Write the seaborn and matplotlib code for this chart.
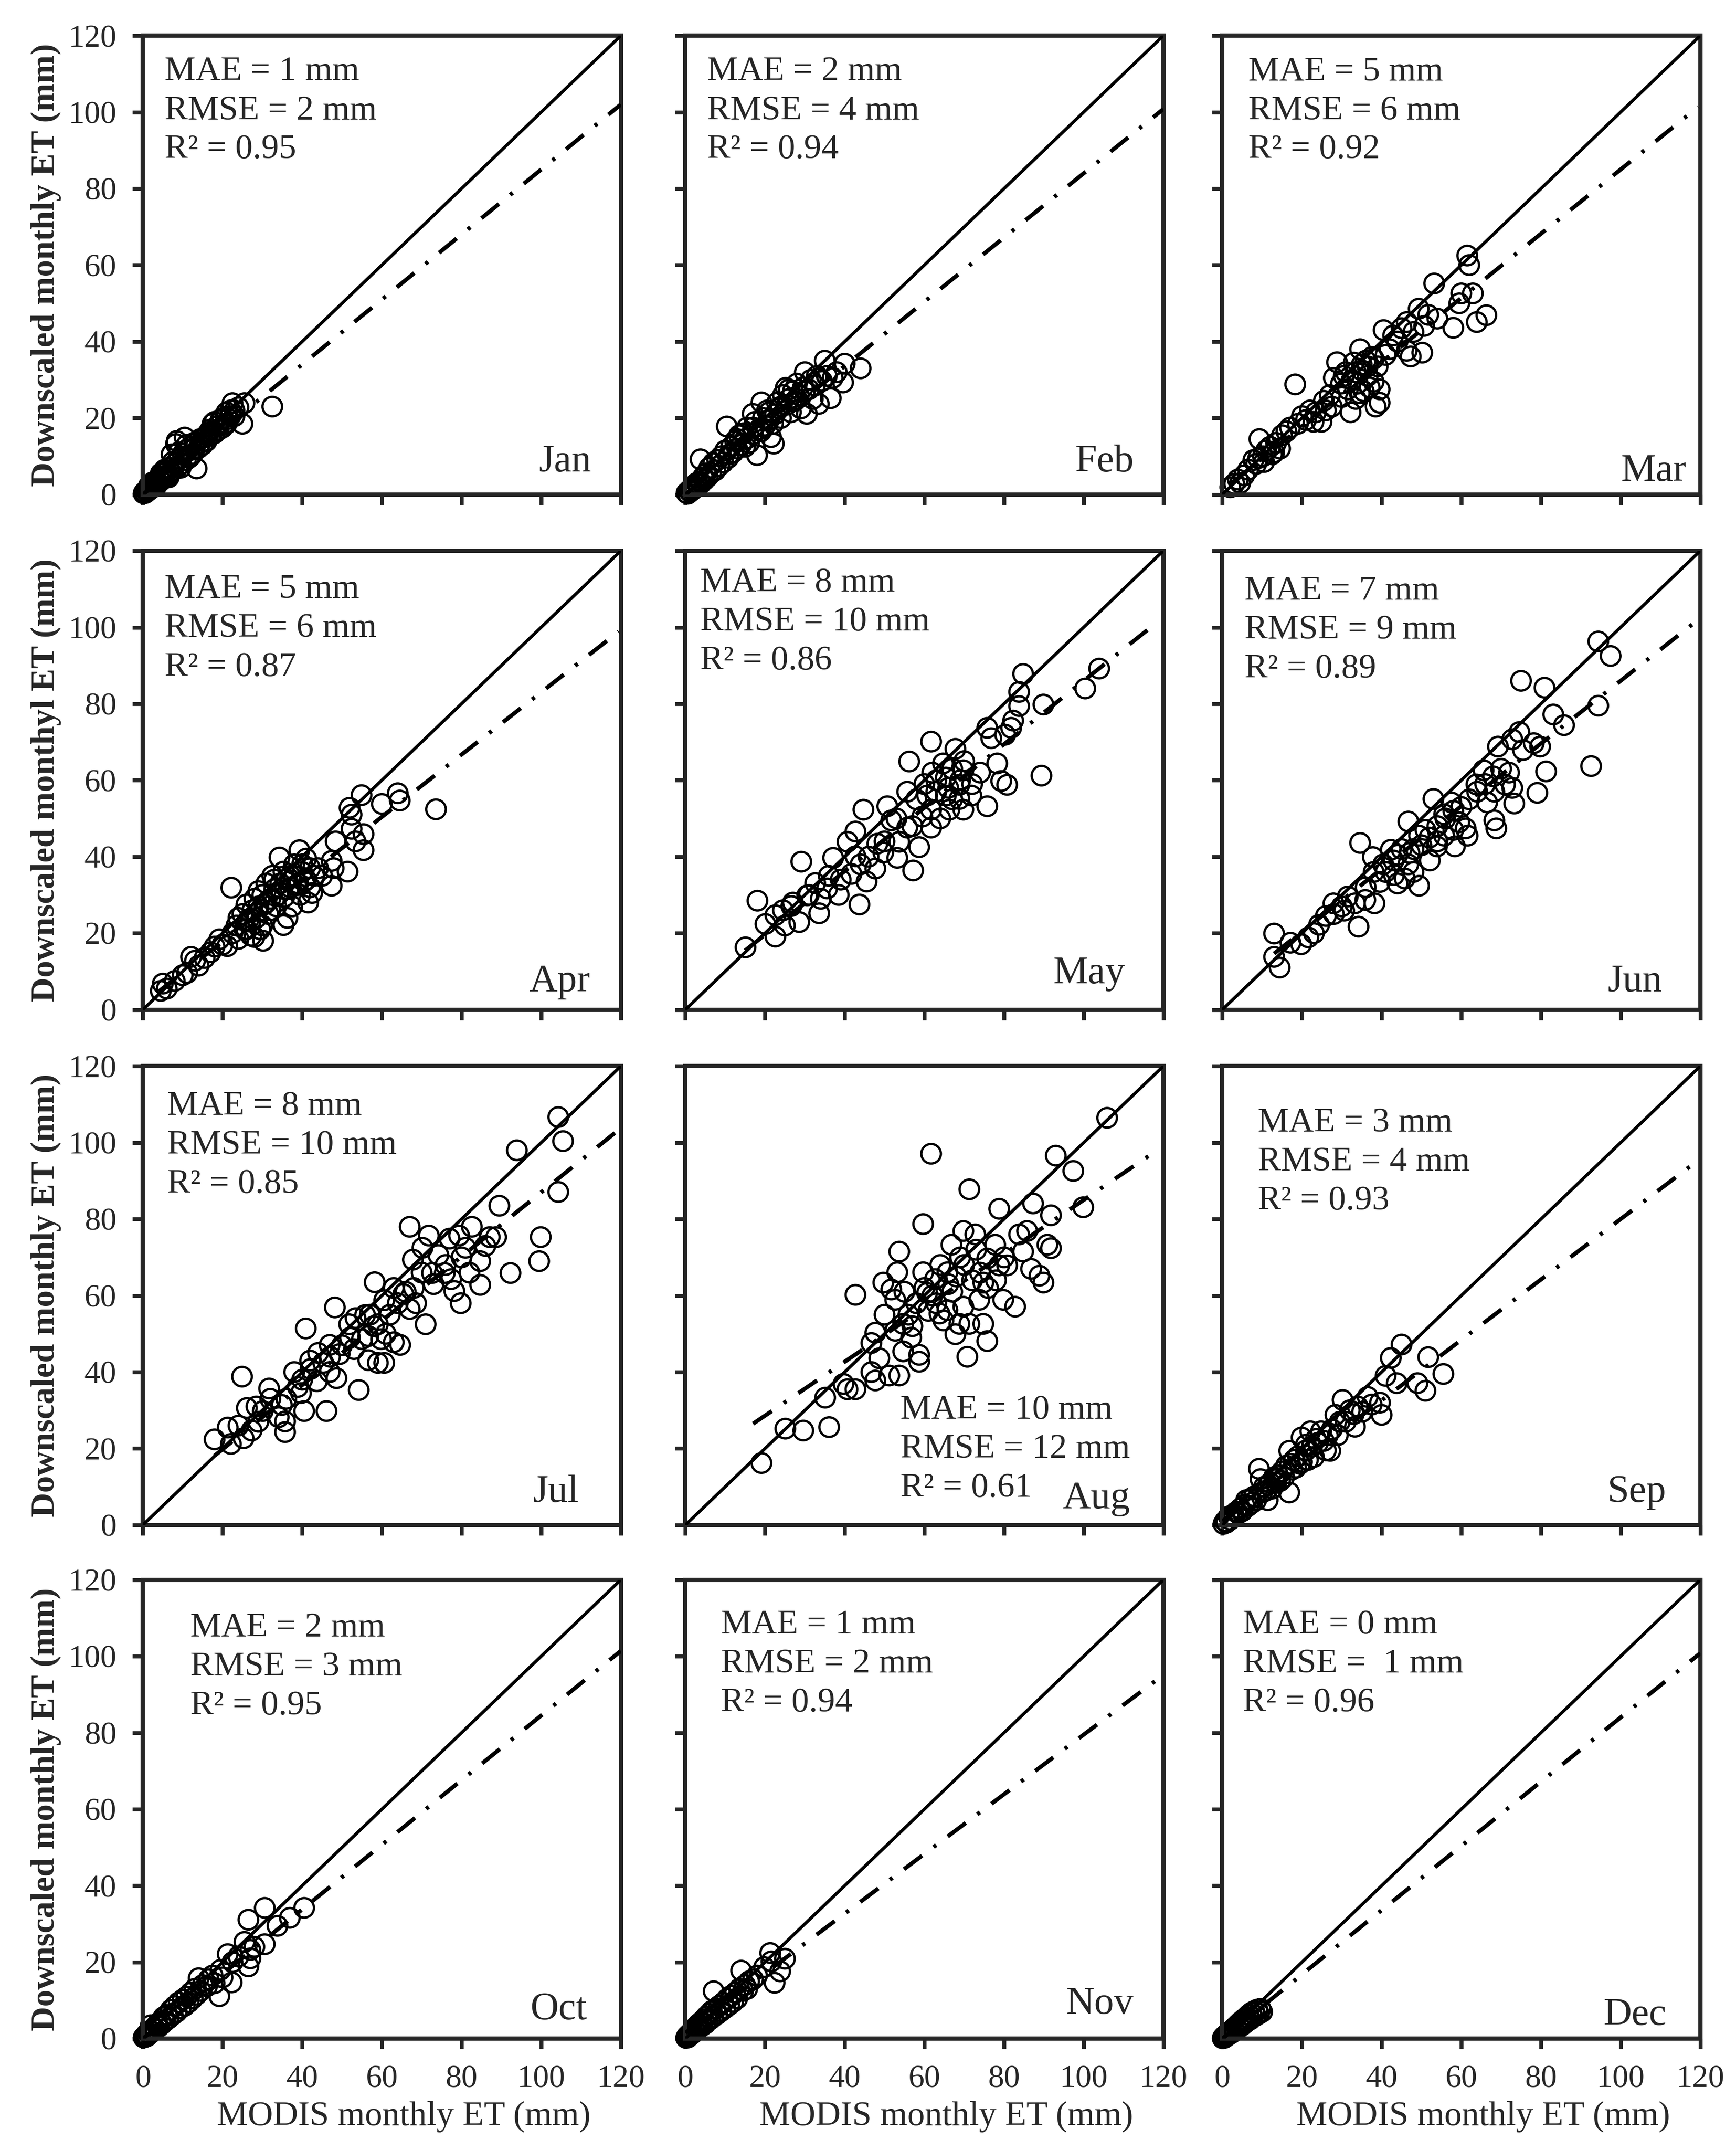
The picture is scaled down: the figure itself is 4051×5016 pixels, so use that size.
"""Downscaled vs MODIS monthly ET, 12 monthly scatter panels."""

import matplotlib
matplotlib.use("Agg")
import matplotlib.pyplot as plt
import numpy as np
import seaborn as sns

MONTHS = ["Jan", "Feb", "Mar", "Apr", "May", "Jun",
          "Jul", "Aug", "Sep", "Oct", "Nov", "Dec"]
MAE = ["1", "2", "5", "5", "8", "7", "8", "10", "3", "2", "1", "0"]
RMSE = ["2", "4", "6", "6", "10", "9", "10", "12", "4", "3", "2", " 1"]
R2 = ["0.95", "0.94", "0.92", "0.87", "0.86", "0.89",
      "0.85", "0.61", "0.93", "0.95", "0.94", "0.96"]

# fitted regression lines (slope, intercept, x start, x end)
REG_SLOPE = [0.85, 0.84, 0.84, 0.815, 0.83, 0.82, 0.84, 0.705, 0.79, 0.845, 0.78, 0.84]
REG_INTERCEPT = [0.0, 0.0, 1.0, 1.5, 3.0, 4.0, 3.0, 14.5, 1.0, 0.0, 1.5, 0.0]
REG_X0 = [0, 0, 2, 4, 15, 13, 18, 17, 0, 0, 0, 0]
REG_X1 = [120, 120, 119.5, 119.5, 118.5, 118.5, 119, 117, 120, 120, 120, 120]

YLABELS = ["Downscaled monthly ET (mm)", "Downscaled monthyl ET (mm)",
           "Downscaled monthly ET (mm)", "Downscaled monthly ET (mm)"]
TICKS = [0, 20, 40, 60, 80, 100, 120]

# (MODIS, downscaled) pairs
JAN = [(0.2, 0.3), (0.4, 0.6), (0.6, 0.4), (0.9, 1.0), (1.1, 0.8), (1.3, 1.5), (1.6, 1.2),
       (1.8, 2.0), (2.1, 1.6), (2.4, 2.5), (2.7, 2.0), (3.0, 3.0), (3.2, 2.4), (3.5, 3.6),
       (3.8, 2.9), (4.1, 4.3), (4.4, 3.5), (4.7, 4.8), (5.0, 4.0), (5.3, 5.6), (5.6, 4.6),
       (6.0, 6.2), (6.3, 5.0), (6.6, 7.0), (7.0, 5.8), (7.2, 10.5), (7.6, 6.3), (8.0, 8.0),
       (8.3, 13.2), (8.5, 14.0), (8.8, 7.2), (9.2, 9.5), (9.6, 8.0), (10.0, 10.6), (10.5, 14.9),
       (10.8, 9.0), (11.2, 11.8), (11.6, 9.6), (12.0, 12.5), (12.5, 10.6), (13.0, 13.6),
       (13.5, 6.8), (14.0, 12.2), (14.4, 14.5), (15.0, 13.0), (15.5, 15.0), (16.0, 14.0),
       (16.5, 16.2), (17.0, 15.5), (17.5, 18.5), (18.0, 16.0), (18.6, 17.8), (19.0, 16.9),
       (19.5, 19.5), (20.0, 17.5), (20.5, 18.5), (21.0, 21.5), (21.5, 19.8), (22.0, 22.0),
       (22.5, 23.9), (23.0, 20.5), (24.0, 22.8), (25.0, 18.5), (25.5, 23.9), (32.5, 23.0),
       (1.5, 2.2), (2.5, 3.2), (3.5, 2.5), (4.5, 5.5), (5.5, 6.5), (6.5, 4.5), (7.5, 8.5),
       (9.0, 11.0), (9.5, 7.0), (11.0, 13.0), (12.0, 10.0), (13.0, 12.0), (14.5, 13.5),
       (16.0, 15.5), (17.0, 17.0), (18.0, 19.0), (19.0, 18.0), (20.0, 20.0), (21.0, 18.5),
       (22.0, 20.5), (23.0, 22.0)]
FEB = [(0.3, 0.4), (0.6, 0.2), (0.9, 1.0), (1.2, 0.7), (1.5, 1.6), (1.8, 1.2), (2.2, 2.4),
       (2.5, 1.8), (2.8, 3.0), (3.2, 2.6), (3.5, 3.4), (3.8, 9.2), (4.0, 3.0), (4.4, 4.5),
       (4.8, 3.8), (5.2, 5.5), (5.6, 4.6), (6.0, 7.0), (6.5, 5.6), (7.0, 8.2), (7.5, 6.3),
       (8.0, 9.0), (8.5, 7.5), (9.0, 10.0), (9.5, 8.4), (10.0, 11.5), (10.4, 17.8), (10.8, 9.6),
       (11.5, 12.5), (12.0, 11.0), (12.5, 14.0), (13.0, 12.0), (13.5, 15.5), (14.0, 13.0),
       (14.5, 16.0), (15.0, 14.5), (15.5, 17.5), (16.0, 13.5), (16.9, 21.1), (17.0, 15.8),
       (17.5, 19.0), (18.0, 10.3), (18.5, 17.0), (19.1, 24.1), (19.5, 20.0), (20.0, 18.0),
       (20.5, 22.0), (21.0, 19.5), (21.5, 15.0), (22.2, 13.3), (22.5, 21.0), (23.0, 24.0),
       (23.5, 22.5), (24.0, 20.0), (24.5, 26.0), (25.2, 27.9), (25.5, 23.5), (26.0, 25.0),
       (26.5, 21.5), (27.0, 27.0), (27.5, 24.5), (28.0, 29.0), (28.5, 26.0), (29.0, 22.5),
       (29.5, 28.0), (30.0, 32.0), (30.5, 21.1), (31.0, 27.5), (31.5, 30.0), (32.0, 25.0),
       (32.5, 28.5), (33.5, 23.7), (34.3, 29.7), (35.0, 35.0), (35.5, 31.0), (36.5, 25.2),
       (37.0, 30.5), (38.0, 32.0), (39.6, 29.3), (40.0, 34.2), (44.0, 33.0),
       (11.0, 10.5), (13.0, 14.5), (15.0, 12.5), (17.0, 17.5), (19.0, 16.5), (21.0, 21.5),
       (22.0, 18.5), (24.0, 23.0), (26.0, 27.5), (28.0, 25.0), (30.0, 27.0), (33.0, 31.0)]
MAR = [(2.0, 1.9), (3.0, 2.8), (3.9, 3.9), (4.5, 3.0), (5.5, 5.0), (6.5, 6.5), (7.8, 9.0),
       (8.5, 8.0), (9.3, 14.5), (10.2, 10.0), (11.0, 11.5), (12.0, 12.5), (12.5, 10.5),
       (13.5, 13.5), (14.5, 12.0), (15.0, 15.5), (16.1, 16.5), (17.0, 17.5), (18.3, 28.8),
       (19.0, 18.5), (20.0, 20.5), (21.0, 19.5), (22.0, 22.0), (22.9, 19.0), (23.5, 21.5),
       (24.9, 19.0), (25.5, 24.5), (26.0, 22.0), (27.0, 26.0), (27.5, 23.0), (28.0, 30.5),
       (28.8, 34.6), (29.8, 29.0), (30.0, 25.5), (31.0, 32.0), (31.5, 27.5), (32.2, 21.5),
       (32.5, 30.0), (33.0, 34.5), (33.5, 25.0), (34.0, 29.0), (34.6, 38.0), (35.0, 32.5),
       (35.5, 27.0), (36.0, 35.0), (36.5, 31.0), (37.6, 36.0), (38.0, 29.5), (38.5, 23.0),
       (39.0, 33.5), (39.5, 27.5), (39.5, 24.0), (40.5, 43.0), (41.0, 36.5), (42.0, 38.0),
       (42.9, 41.6), (44.0, 40.0), (45.0, 43.5), (46.3, 45.1), (46.3, 37.6), (47.3, 36.1),
       (48.0, 42.5), (49.3, 48.6), (50.2, 37.1), (50.7, 44.1), (51.7, 47.0), (53.2, 55.2),
       (54.0, 46.0), (58.0, 43.6), (59.5, 50.0), (60.0, 52.6), (61.5, 62.5), (62.0, 60.0),
       (62.9, 52.6), (63.9, 45.1), (66.3, 46.9),
       (9.0, 9.5), (10.5, 8.5), (13.0, 11.0), (30.5, 31.0), (33.5, 32.0), (35.0, 34.0),
       (36.5, 33.5), (38.0, 35.5), (37.0, 28.0), (34.5, 26.5)]
APR = [(4.5, 4.9), (5.0, 6.8), (6.0, 5.5), (8.0, 7.5), (10.0, 9.0), (11.1, 9.6), (12.1, 13.8),
       (13.1, 12.8), (14.0, 11.5), (15.5, 13.5), (17.0, 15.0), (18.0, 16.5), (19.2, 18.4),
       (20.0, 17.0), (21.2, 16.6), (22.2, 31.9), (22.5, 20.0), (23.5, 22.0), (24.0, 18.5),
       (25.0, 25.0), (25.5, 21.0), (26.0, 27.5), (26.5, 23.5), (27.2, 19.3), (27.5, 26.0),
       (28.0, 29.0), (28.5, 24.0), (29.0, 31.0), (29.5, 21.0), (30.2, 18.0), (30.5, 27.5),
       (31.0, 33.0), (31.5, 25.0), (32.0, 29.0), (32.5, 35.0), (33.0, 31.5), (33.5, 27.0),
       (34.3, 39.8), (34.5, 33.0), (35.3, 36.1), (35.3, 22.1), (35.5, 29.5), (36.3, 24.0),
       (36.5, 31.5), (37.0, 35.0), (37.5, 27.0), (38.0, 38.0), (38.5, 32.5), (39.3, 41.7),
       (39.5, 30.0), (40.0, 36.0), (40.5, 33.5), (41.0, 39.5), (41.5, 28.0), (42.0, 37.0),
       (42.5, 30.5), (43.0, 35.0), (47.4, 38.9), (47.9, 37.0), (47.4, 32.4), (48.4, 44.0),
       (51.4, 36.1), (51.9, 52.8), (52.4, 51.0), (52.4, 47.3), (53.4, 44.0), (54.9, 56.1),
       (55.4, 45.9), (55.4, 41.7), (60.0, 53.8), (64.0, 56.6), (64.5, 54.7), (73.6, 52.4),
       (29.0, 27.0), (30.0, 30.0), (31.0, 28.0), (33.0, 34.0), (34.0, 30.0), (36.0, 34.0),
       (37.0, 32.0), (38.0, 35.0), (39.0, 33.0), (40.0, 38.0), (41.0, 34.0), (42.0, 32.0),
       (44.0, 37.0), (45.0, 35.0), (30.0, 22.0), (32.0, 26.0), (27.0, 23.0), (26.0, 21.0),
       (24.0, 24.0), (28.0, 19.0)]
MAY = [(15.1, 16.3), (18.1, 28.5), (20.1, 22.4), (22.6, 19.1), (22.6, 24.7), (24.5, 26.0),
       (26.6, 27.1), (28.6, 22.9), (29.1, 38.7), (30.6, 29.9), (32.6, 33.1), (33.6, 25.2),
       (35.6, 31.7), (37.1, 39.7), (38.5, 30.0), (40.7, 43.9), (41.7, 35.5), (42.7, 40.1),
       (42.7, 46.6), (43.7, 27.5), (44.7, 52.3), (45.5, 33.5), (47.7, 36.9), (48.2, 43.4),
       (49.7, 41.1), (50.7, 53.2), (51.7, 49.5), (53.2, 39.7), (53.7, 43.9), (55.7, 57.0),
       (55.7, 47.6), (56.2, 64.9), (57.2, 36.4), (58.7, 42.5), (59.5, 50.5), (60.7, 56.0),
       (61.7, 70.1), (61.7, 52.3), (61.7, 47.6), (63.0, 60.0), (64.7, 64.4), (65.4, 60.7),
       (65.4, 56.0), (66.3, 52.3), (67.0, 63.0), (67.8, 68.2), (68.8, 58.8), (68.8, 55.1),
       (69.8, 62.6), (69.8, 52.3), (71.8, 56.0), (75.8, 53.2), (75.8, 73.7), (76.8, 71.0),
       (78.3, 64.4), (79.3, 59.8), (80.3, 71.9), (80.8, 58.8), (81.8, 73.7), (82.3, 75.6),
       (83.8, 79.4), (83.8, 83.1), (84.8, 87.8), (89.4, 61.2), (89.9, 79.8), (100.4, 84.0),
       (103.9, 89.2),
       (58.0, 55.0), (60.0, 59.0), (62.0, 62.0), (63.0, 57.0), (64.0, 50.0), (66.0, 58.0),
       (67.0, 55.0), (69.0, 60.0), (70.0, 65.0), (72.0, 59.0), (74.0, 62.0), (57.0, 48.0),
       (53.0, 50.0), (50.0, 44.0), (46.0, 40.0), (44.0, 38.0), (39.0, 34.0), (36.0, 35.0),
       (34.0, 29.0), (31.0, 30.0), (27.0, 28.0), (25.0, 22.0)]
JUN = [(13.0, 19.9), (13.0, 13.8), (14.4, 11.0), (17.1, 17.5), (19.8, 17.1), (21.6, 18.9),
       (24.3, 22.2), (26.0, 24.5), (27.9, 27.8), (30.6, 25.9), (31.5, 29.6), (33.3, 27.8),
       (34.2, 21.7), (34.6, 43.6), (35.9, 28.7), (37.8, 39.9), (38.2, 27.8), (39.6, 33.4),
       (40.4, 38.0), (42.3, 41.8), (43.1, 35.2), (44.0, 40.5), (45.8, 34.3), (46.7, 38.0),
       (46.7, 49.2), (48.0, 42.0), (49.4, 45.5), (49.4, 32.4), (51.0, 47.0), (52.1, 39.0),
       (53.0, 55.1), (53.9, 42.7), (55.7, 51.1), (55.7, 45.5), (57.5, 54.2), (58.4, 42.7),
       (59.5, 49.0), (61.1, 47.4), (61.6, 45.5), (63.8, 58.9), (65.6, 62.6), (66.5, 54.2),
       (68.3, 57.0), (68.3, 49.5), (68.8, 47.4), (69.2, 68.8), (71.0, 58.9), (72.8, 58.0),
       (72.8, 70.7), (73.3, 53.9), (74.6, 72.6), (75.0, 86.0), (75.5, 67.9), (78.2, 69.7),
       (79.1, 56.7), (79.8, 68.8), (80.9, 84.2), (81.3, 62.3), (83.1, 77.2), (85.8, 74.4),
       (92.6, 63.7), (94.4, 79.5), (94.4, 96.3), (97.5, 92.5),
       (36.0, 32.0), (38.0, 36.0), (41.0, 36.0), (43.0, 39.0), (45.0, 42.0), (47.0, 41.0),
       (50.0, 43.0), (52.0, 45.0), (54.0, 48.0), (56.0, 50.0), (58.0, 52.0), (60.0, 53.0),
       (62.0, 55.0), (64.0, 57.0), (66.0, 59.0), (68.0, 61.0), (70.0, 63.0), (72.0, 62.0),
       (58.0, 47.0), (54.0, 44.0), (48.0, 36.0), (44.0, 33.0), (30.0, 27.0), (28.0, 25.0),
       (23.0, 20.0)]
JUL = [(18.0, 22.4), (21.3, 25.5), (22.1, 21.2), (24.9, 38.8), (25.3, 22.7), (26.1, 30.6),
       (27.3, 24.7), (28.5, 31.0), (30.1, 29.8), (31.7, 35.7), (34.1, 28.2), (34.9, 31.4),
       (35.7, 27.1), (35.7, 24.3), (38.9, 36.1), (39.7, 34.5), (40.5, 29.8), (40.9, 51.4),
       (42.1, 40.8), (43.7, 37.6), (45.3, 42.4), (46.1, 29.8), (46.9, 47.1), (46.9, 40.0),
       (48.2, 56.9), (48.6, 38.4), (49.4, 44.7), (51.8, 52.5), (53.4, 54.1), (54.2, 35.3),
       (55.0, 48.6), (55.8, 54.9), (56.6, 43.1), (56.6, 49.4), (58.2, 63.5), (59.0, 42.4),
       (59.0, 52.5), (59.8, 48.6), (60.6, 58.8), (60.6, 42.4), (63.0, 62.0), (63.0, 47.8),
       (64.6, 47.1), (65.4, 60.4), (67.0, 56.5), (67.0, 78.0), (67.8, 69.4), (68.6, 58.0),
       (70.2, 72.5), (71.0, 52.5), (71.8, 75.7), (72.6, 65.9), (74.2, 70.6), (75.8, 65.9),
       (77.0, 74.9), (77.4, 64.3), (78.2, 61.2), (79.4, 75.7), (79.8, 58.0), (81.0, 72.5),
       (82.6, 78.0), (84.7, 69.0), (84.7, 62.8), (87.1, 75.3), (88.7, 75.3), (89.5, 83.5),
       (92.3, 65.9), (93.9, 98.0), (99.5, 69.0), (99.9, 75.3), (104.3, 106.7), (104.3, 87.1),
       (105.5, 100.4),
       (44.0, 45.0), (47.0, 44.0), (50.0, 47.0), (52.0, 49.0), (53.0, 46.0), (57.0, 55.0),
       (58.0, 52.0), (61.0, 50.0), (62.0, 55.0), (64.0, 58.0), (66.0, 61.0), (68.0, 62.0),
       (70.0, 66.0), (73.0, 63.0), (76.0, 68.0), (80.0, 70.0), (82.0, 66.0), (86.0, 73.0),
       (38.0, 40.0), (36.0, 33.0), (32.0, 33.0), (29.0, 27.0), (24.0, 26.0), (42.0, 43.0),
       (40.0, 38.0)]
AUG = [(19.1, 16.2), (25.1, 25.2), (29.6, 24.7), (35.1, 33.3), (36.1, 25.6), (39.7, 36.9),
       (40.7, 35.5), (42.7, 35.5), (42.7, 60.2), (46.7, 40.0), (46.7, 47.6), (47.7, 37.8),
       (47.7, 50.3), (48.7, 43.6), (49.7, 63.4), (51.2, 39.1), (51.7, 61.6), (52.7, 58.9),
       (52.7, 50.8), (53.2, 66.1), (53.7, 71.5), (53.7, 39.1), (54.7, 52.6), (54.7, 45.4),
       (56.7, 49.0), (58.7, 42.7), (58.7, 44.5), (59.7, 78.7), (59.7, 66.1), (60.7, 60.7),
       (61.7, 97.1), (62.7, 64.3), (63.8, 55.3), (64.8, 53.5), (65.8, 66.1), (65.8, 56.2),
       (66.8, 73.3), (67.8, 49.9), (68.8, 52.6), (69.8, 76.9), (69.8, 57.1), (70.8, 44.0),
       (71.3, 87.8), (71.3, 52.6), (72.8, 76.0), (73.8, 58.9), (74.8, 63.4), (74.8, 52.6),
       (75.8, 48.1), (75.8, 69.7), (77.8, 73.3), (78.8, 67.9), (78.8, 82.7), (79.8, 58.9),
       (80.8, 67.9), (82.8, 57.1), (83.8, 76.0), (84.8, 71.5), (85.8, 76.9), (86.8, 67.0),
       (87.3, 84.1), (88.9, 65.2), (89.9, 63.4), (90.9, 73.3), (91.8, 81.0), (91.8, 72.4),
       (93.0, 96.6), (97.4, 92.6), (99.9, 83.1), (105.9, 106.5),
       (56.0, 55.0), (58.0, 58.0), (60.0, 62.0), (62.0, 60.0), (64.0, 68.0), (66.0, 63.0),
       (68.0, 65.0), (70.0, 68.0), (72.0, 64.0), (74.0, 66.0), (76.0, 62.0), (78.0, 64.0),
       (80.0, 70.0), (57.0, 52.0), (61.0, 56.0), (63.0, 58.0), (67.0, 61.0), (69.0, 70.0),
       (73.0, 72.0), (50.0, 55.0), (55.0, 61.0)]
SEP = [(0.3, 0.3), (0.7, 1.0), (1.0, 0.6), (1.6, 2.2), (2.0, 1.4), (2.5, 2.6), (3.0, 2.2),
       (3.5, 3.4), (4.0, 3.0), (4.5, 4.3), (5.0, 3.6), (5.5, 5.2), (6.0, 6.5), (6.5, 5.0),
       (7.0, 6.8), (7.5, 5.8), (8.0, 7.5), (8.5, 6.5), (9.2, 14.7), (9.6, 12.0), (10.0, 8.5),
       (10.5, 10.0), (11.0, 9.0), (11.4, 6.5), (12.0, 11.0), (12.5, 9.5), (13.0, 12.5),
       (13.5, 11.0), (14.0, 13.0), (14.5, 11.5), (15.0, 14.0), (15.5, 12.5), (16.0, 15.5),
       (16.8, 19.4), (16.8, 8.5), (17.5, 14.5), (18.0, 17.0), (18.5, 15.0), (19.0, 18.0),
       (19.9, 22.9), (20.0, 16.5), (21.0, 19.5), (21.5, 17.0), (22.1, 24.5), (22.5, 20.5),
       (23.0, 17.8), (24.0, 21.5), (24.8, 24.5), (25.5, 22.0), (26.0, 19.5), (27.1, 19.4),
       (27.5, 25.0), (28.4, 28.8), (29.0, 23.5), (30.2, 32.7), (31.0, 27.0), (32.0, 30.0),
       (33.3, 25.7), (34.0, 31.0), (35.1, 29.6), (36.5, 33.5), (37.5, 31.5), (39.6, 32.0),
       (40.0, 28.8), (41.0, 39.0), (42.3, 43.7), (43.8, 37.1), (45.0, 47.2), (49.0, 37.1),
       (51.0, 35.1), (51.7, 43.9), (55.5, 39.5),
       (11.5, 10.5), (13.5, 12.0), (17.0, 16.0), (19.5, 16.0), (21.0, 21.0), (23.5, 22.5),
       (26.5, 23.5), (29.5, 27.0), (33.0, 29.0)]
OCT = [(0.2, 0.3), (0.5, 0.4), (0.8, 1.0), (1.0, 0.6), (1.3, 1.6), (1.6, 1.2), (2.0, 3.5),
       (2.0, 2.0), (2.4, 1.8), (2.8, 2.8), (3.2, 2.4), (3.5, 3.6), (4.0, 3.1), (4.4, 4.5),
       (4.8, 3.8), (5.2, 5.6), (5.6, 4.6), (6.0, 6.2), (6.5, 5.3), (7.0, 7.5), (7.5, 6.2),
       (8.0, 8.5), (8.5, 7.0), (9.0, 9.5), (9.5, 8.0), (10.0, 10.2), (10.5, 8.6), (11.0, 11.0),
       (11.5, 9.5), (12.0, 12.0), (12.5, 10.5), (13.0, 13.0), (13.5, 11.5), (14.0, 15.8),
       (14.5, 12.5), (15.0, 14.0), (16.1, 13.7), (16.5, 15.5), (17.5, 16.5), (18.0, 14.5),
       (19.2, 11.1), (19.5, 18.0), (20.0, 16.0), (21.3, 22.1), (22.3, 14.7), (22.5, 20.0),
       (24.0, 21.5), (25.5, 25.3), (26.5, 18.9), (26.5, 31.1), (27.0, 23.2), (27.0, 21.0),
       (28.0, 24.0), (30.6, 24.7), (30.6, 34.2), (33.8, 29.5), (36.9, 31.6), (40.5, 34.2)]
NOV = [(0.2, 0.2), (0.4, 0.6), (0.6, 0.3), (0.8, 1.0), (1.0, 0.7), (1.2, 1.4), (1.5, 1.1),
       (1.7, 2.0), (2.0, 1.5), (2.2, 2.6), (2.5, 2.0), (2.8, 3.2), (3.0, 2.4), (3.3, 3.8),
       (3.6, 2.9), (4.0, 4.4), (4.3, 3.4), (4.6, 5.0), (5.0, 3.9), (5.3, 5.8), (5.6, 4.6),
       (6.0, 6.5), (6.3, 5.1), (6.6, 7.2), (7.0, 5.7), (7.1, 12.4), (7.5, 7.8), (8.0, 6.4),
       (8.5, 8.6), (9.0, 7.2), (9.5, 9.4), (10.0, 8.0), (10.5, 10.4), (11.0, 8.8), (11.5, 11.2),
       (12.0, 9.6), (12.5, 12.0), (13.0, 10.5), (13.5, 13.0), (14.0, 17.8), (14.5, 12.5),
       (15.0, 14.0), (15.5, 13.0), (16.0, 15.0), (17.0, 15.5), (18.0, 16.5), (19.8, 18.7),
       (21.3, 22.4), (21.6, 20.2), (22.4, 14.6), (23.8, 17.6), (25.0, 20.9)]
DEC = [(0.1, 0.1), (0.3, 0.4), (0.5, 0.2), (0.7, 0.8), (0.9, 0.5), (1.1, 1.2), (1.4, 0.9),
       (1.6, 1.6), (1.9, 1.2), (2.2, 2.0), (2.5, 1.6), (2.8, 2.6), (3.1, 2.0), (3.4, 3.2),
       (3.7, 2.5), (4.0, 3.8), (4.3, 3.0), (4.6, 4.4), (5.0, 3.5), (5.3, 5.0), (5.6, 4.0),
       (6.0, 5.6), (6.3, 4.6), (6.6, 6.2), (7.0, 5.0), (7.3, 6.8), (7.6, 5.6), (8.0, 7.2),
       (8.4, 6.0), (8.8, 7.6), (9.2, 6.5), (9.6, 7.8), (10.0, 7.0)]

POINTS = [JAN, FEB, MAR, APR, MAY, JUN, JUL, AUG, SEP, OCT, NOV, DEC]

# layout (figure fractions / axes fractions)
LEFTS = [0.0823, 0.3948, 0.7041]
BOTTOMS = [0.7700, 0.5304, 0.2907, 0.0518]
W, H = 0.2753, 0.2134
STAT_X = [0.045, 0.045, 0.054, 0.045, 0.031, 0.046, 0.051, 0.45, 0.074, 0.099, 0.074, 0.043]
STAT_Y = [0.955, 0.955, 0.955, 0.95, 0.964, 0.946, 0.946, 0.284, 0.91, 0.929, 0.935, 0.935]
STAT_STEP = 0.085
MONTH_X = [0.938, 0.938, 0.971, 0.935, 0.92, 0.92, 0.912, 0.93, 0.929, 0.929, 0.938, 0.929]
MONTH_Y = [0.05, 0.05, 0.03, 0.04, 0.057, 0.04, 0.05, 0.036, 0.05, 0.042, 0.054, 0.03]

sns.set_style("ticks")
plt.rcParams["font.family"] = ["Liberation Serif", "DejaVu Serif"]

fig = plt.figure(figsize=(4051 / 300, 5016 / 300), dpi=300)

for i, month in enumerate(MONTHS):
    r, c = divmod(i, 3)
    ax = fig.add_axes([LEFTS[c], BOTTOMS[r], W, H])
    pts = np.array(POINTS[i])
    sns.scatterplot(x=pts[:, 0], y=pts[:, 1], ax=ax, s=120, marker="o",
                    facecolor="none", edgecolor="black", linewidth=1.3,
                    clip_on=False, zorder=2)

    ax.plot([0, 120], [0, 120], color="black", lw=1.8, zorder=3)
    xr = np.array([REG_X0[i], REG_X1[i]])
    ax.plot(xr, REG_SLOPE[i] * xr + REG_INTERCEPT[i], color="black", lw=2.3,
            linestyle=(0, (5.5, 3.5, 0.8, 3.5)), zorder=3)

    ax.set_xlim(0, 120)
    ax.set_ylim(0, 120)
    ax.set_xticks(TICKS)
    ax.set_yticks(TICKS)
    ax.tick_params(direction="out", length=5.8, width=2.2, labelsize=18, pad=9,
                   labelbottom=(r == 3), labelleft=(c == 0))
    for sp in ax.spines.values():
        sp.set_linewidth(2.4)
        sp.set_visible(True)

    lines = [f"MAE = {MAE[i]} mm", f"RMSE = {RMSE[i]} mm", f"R\u00b2 = {R2[i]}"]
    for k, line in enumerate(lines):
        ax.text(STAT_X[i], STAT_Y[i] - k * STAT_STEP, line, transform=ax.transAxes,
                ha="left", va="top", fontsize=19.5)
    ax.text(MONTH_X[i], MONTH_Y[i], month, transform=ax.transAxes,
            ha="right", va="baseline", fontsize=22)

    if c == 0:
        ax.set_ylabel(YLABELS[r], fontsize=19, fontweight="bold", labelpad=4)
    else:
        ax.set_ylabel("")
    if r == 3:
        ax.set_xlabel("MODIS monthly ET (mm)", fontsize=19.5, labelpad=4, x=0.546)
    else:
        ax.set_xlabel("")

fig.savefig("out.png", dpi=300, facecolor="white")
